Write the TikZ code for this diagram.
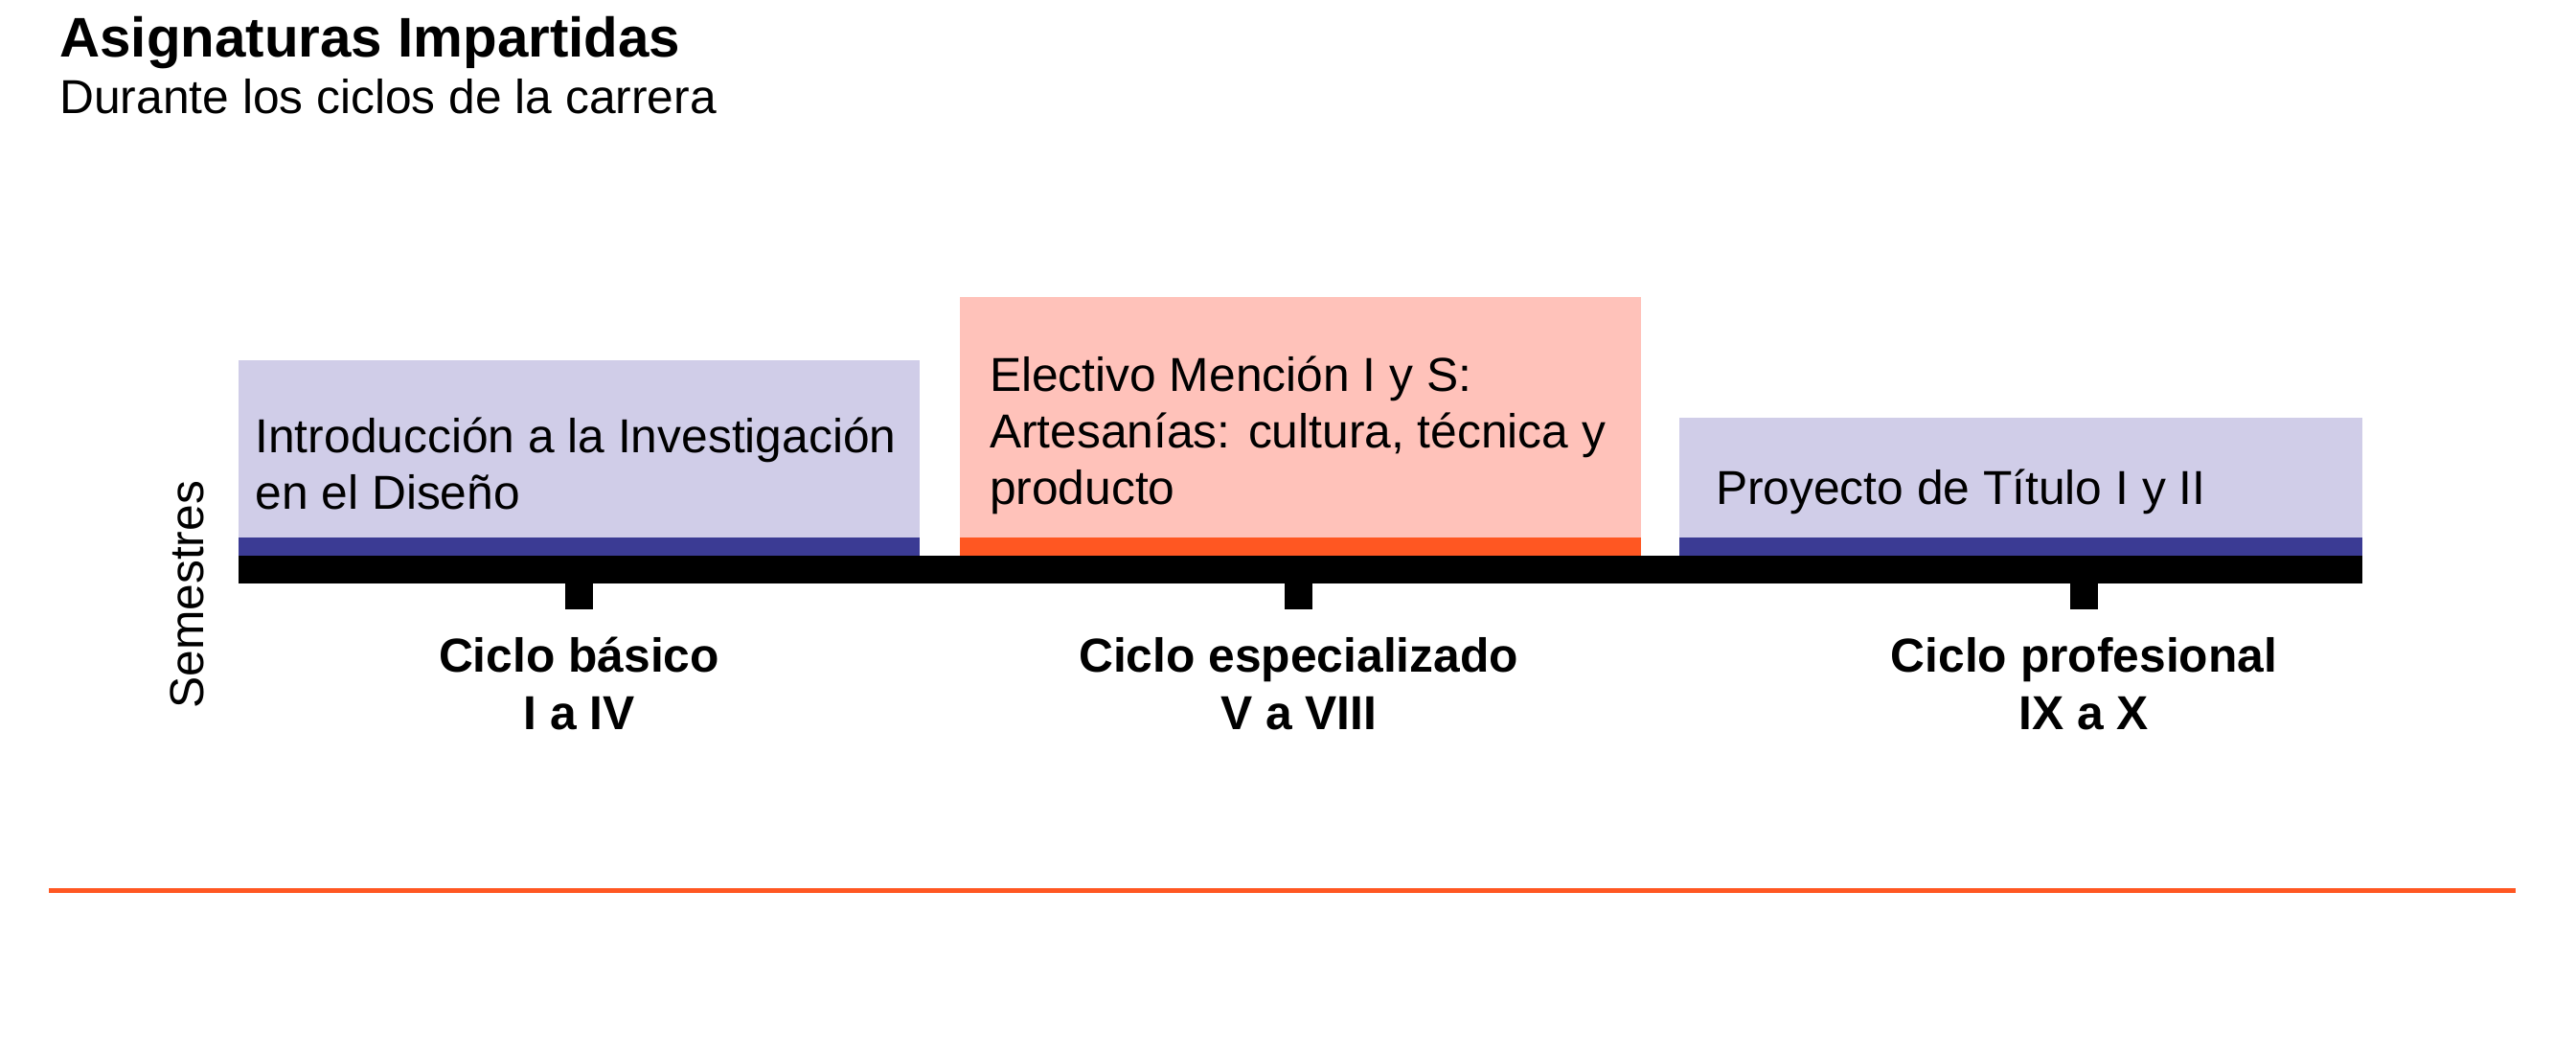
\documentclass[tikz,border=0pt]{standalone}
\usepackage{fontspec}
\setmainfont{Liberation Sans}
\definecolor{lav}{RGB}{208,205,232}
\definecolor{navy}{RGB}{59,59,148}
\definecolor{pinkbg}{RGB}{255,194,186}
\definecolor{orng}{RGB}{255,87,34}
\begin{document}
\begin{tikzpicture}[x=0.5pt,y=-0.5pt,
  body/.style={font=\fontsize{14.5}{17.3}\selectfont, inner sep=0pt, anchor=base west},
  cyc/.style={font=\bfseries\fontsize{14.5}{17.5}\selectfont, inner sep=0pt, anchor=base},
  tickmark/.style={fill=black}
]
\useasboundingbox (0,0) rectangle (1568,640);
% title
\node[inner sep=0pt, anchor=base west, font=\bfseries\fontsize{17}{20}\selectfont] (title) at (36,34.6) {Asignaturas Impartidas};
\node[body] (subtitle) at (36,69) {Durante los ciclos de la carrera};
% boxes
\fill[lav] (145,219) rectangle (560,327);
\fill[navy] (145,327) rectangle (560,338);
\fill[pinkbg] (584,181) rectangle (999,327);
\fill[orng] (584,327) rectangle (999,338);
\fill[lav] (1022,254) rectangle (1438,327);
\fill[navy] (1022,327) rectangle (1438,338);
% timeline
\fill[black] (145,338) rectangle (1438,355);
\fill[tickmark] (344,355) rectangle (361,371);
\fill[tickmark] (782,355) rectangle (799,371);
\fill[tickmark] (1260,355) rectangle (1277,371);
% box texts
\node[body] (t1) at (155,275.6) {\begin{tabular}[t]{@{}l@{}}Introducción a la Investigación\\en el Diseño\end{tabular}};
\node[body] (t2) at (602,238) {\begin{tabular}[t]{@{}l@{}}Electivo Mención I y S:\\Artesanías: cultura, técnica y\\producto\end{tabular}};
\node[body] (t3) at (1044,307) {Proyecto de Título I y II};
% axis label
\node[inner sep=0pt, anchor=base, rotate=90, font=\fontsize{14.5}{17.3}\selectfont] (sem) at (124,362) {Semestres};
% cycle labels
\node[cyc] (c1) at (352.5,409) {\begin{tabular}[t]{@{}c@{}}Ciclo básico\\I a IV\end{tabular}};
\node[cyc] (c2) at (790.5,409) {\begin{tabular}[t]{@{}c@{}}Ciclo especializado\\V a VIII\end{tabular}};
\node[cyc] (c3) at (1268.5,409) {\begin{tabular}[t]{@{}c@{}}Ciclo profesional\\IX a X\end{tabular}};
% bottom line
\coordinate (l1) at (30,542);
\coordinate (l2) at (1531,542);
\draw[orng, line width=1.25pt] (l1) -- (l2);
\end{tikzpicture}
\end{document}
